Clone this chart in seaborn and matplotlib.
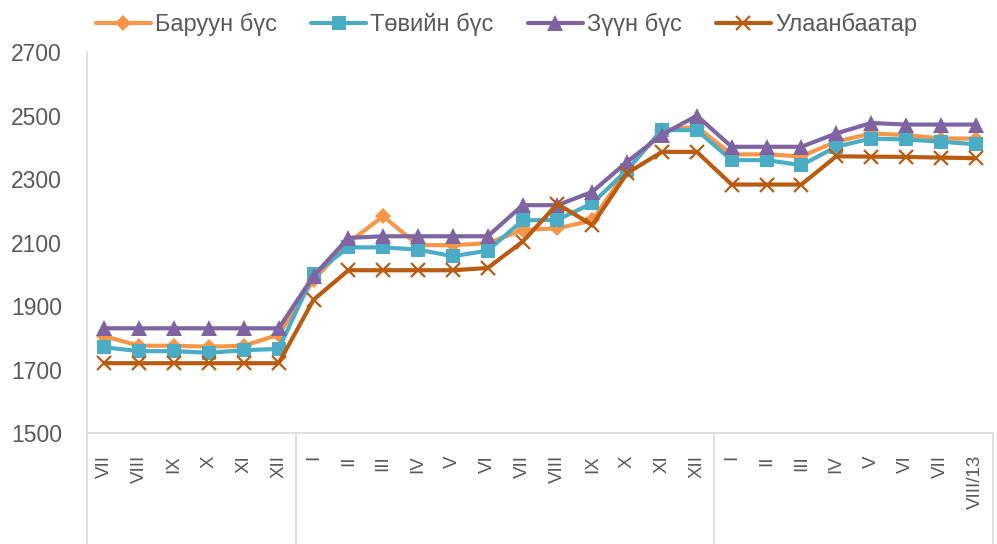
import matplotlib
matplotlib.use('Agg')
import matplotlib.pyplot as plt
import matplotlib.transforms as mtransforms
import seaborn as sns

months = ["VII", "VIII", "IX", "X", "XI", "XII",
          "I", "II", "III", "IV", "V", "VI", "VII", "VIII", "IX", "X", "XI", "XII",
          "I", "II", "III", "IV", "V", "VI", "VII", "VIII/13"]

baruun = [1805, 1775, 1775, 1772, 1775, 1810,
          1982, 2100, 2183, 2092, 2092, 2098, 2140, 2145, 2170, 2329, 2455, 2465,
          2378, 2378, 2372, 2418, 2444, 2439, 2428, 2428]
tov = [1770, 1758, 1758, 1753, 1761, 1765,
       2000, 2085, 2085, 2078, 2057, 2075, 2170, 2172, 2224, 2329, 2455, 2454,
       2360, 2360, 2344, 2402, 2428, 2425, 2418, 2410]
zuun = [1830, 1830, 1830, 1830, 1830, 1830,
        1995, 2115, 2120, 2120, 2120, 2120, 2218, 2218, 2260, 2355, 2440, 2500,
        2402, 2402, 2402, 2444, 2477, 2472, 2472, 2472]
ub = [1720, 1720, 1720, 1720, 1720, 1720,
      1920, 2013, 2013, 2013, 2013, 2020, 2103, 2222, 2155, 2319, 2386, 2386,
      2283, 2283, 2283, 2372, 2371, 2370, 2368, 2366]

series_names = ["Баруун бүс", "Төвийн бүс", "Зүүн бүс", "Улаанбаатар"]
group_edges = [-0.5, 5.5, 17.5, 25.5]

COLORS = ["#F79646", "#4BACC6", "#8064A2", "#B95B10"]
MARKERS = ["D", "s", "^", "x"]
MSIZES = [8.5, 10, 11, 10.5]
GRAY = "#595959"
AXIS_GRAY = "#D9D9D9"

sns.set_style("white")
plt.rcParams['font.family'] = ['Liberation Sans', 'DejaVu Sans']

fig = plt.figure(figsize=(9.97, 5.44), dpi=100)
ax = fig.add_axes([0.0873, 0.204, 0.9087, 0.700])

x = list(range(len(months)))
for name, vals, c, m, ms in zip(series_names, [baruun, tov, zuun, ub], COLORS, MARKERS, MSIZES):
    sns.lineplot(x=x, y=vals, ax=ax, color=c, linewidth=3.0, marker=m,
                 markersize=ms, markeredgecolor=c, markeredgewidth=1.6 if m == "x" else 0,
                 label=name)

ax.set_ylim(1500, 2700)
ax.set_yticks(range(1500, 2701, 200))
ax.set_xlim(-0.5, 25.5)
ax.set_xticks(x)
ax.set_xticklabels(months, rotation=90, color=GRAY, fontsize=13.5)
ax.tick_params(axis='y', labelsize=16.5, labelcolor=GRAY, length=0, pad=18)
ax.tick_params(axis='x', length=0, pad=16)

for s in ['top', 'right']:
    ax.spines[s].set_visible(False)
for s in ['left', 'bottom']:
    ax.spines[s].set_color(AXIS_GRAY)
    ax.spines[s].set_linewidth(1.2)

# group separators under the category axis
trans = mtransforms.blended_transform_factory(ax.transData, ax.transAxes)
for e in group_edges:
    ax.plot([e, e], [0, -0.3], color=AXIS_GRAY, linewidth=1.2, transform=trans, clip_on=False)

ax.legend(loc='upper center', bbox_to_anchor=(0.508, 1.015), bbox_transform=fig.transFigure,
          ncol=4, frameon=False, fontsize=17, handlelength=2.33, columnspacing=1.45,
          handletextpad=0.17, labelcolor=GRAY)

fig.savefig("out.png", dpi=100)
